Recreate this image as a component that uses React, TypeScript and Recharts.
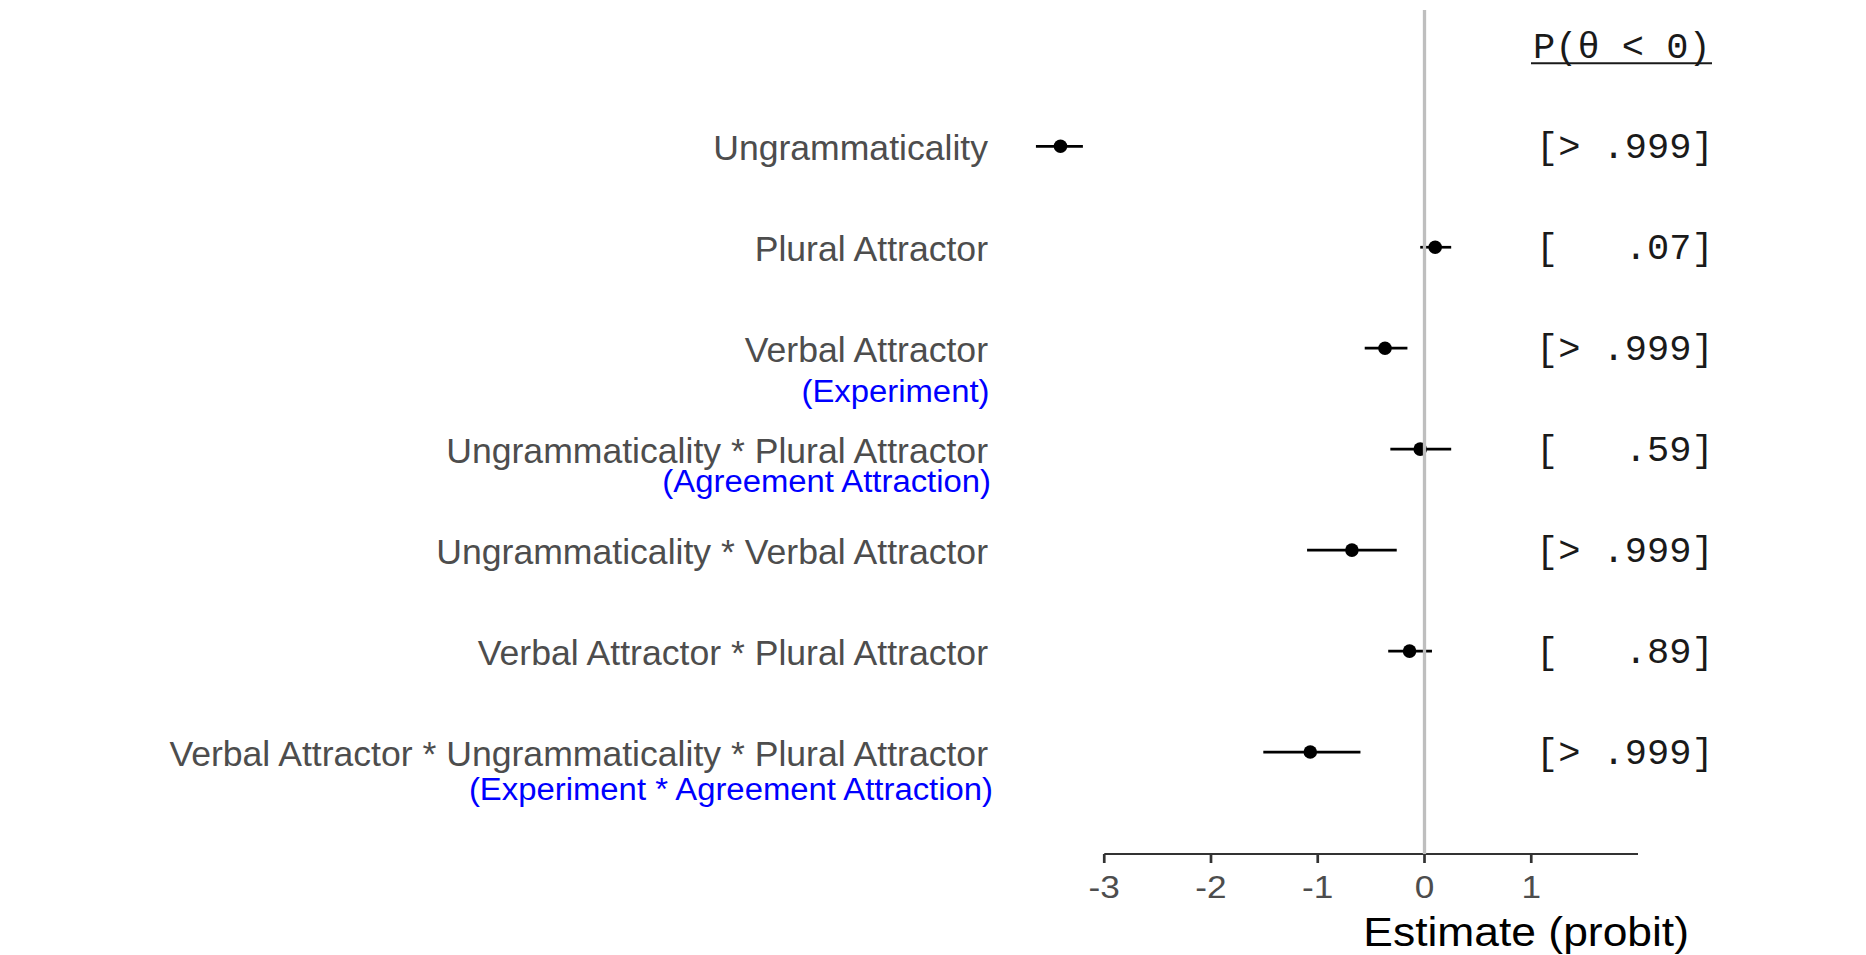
import React from 'react';
import { ScatterChart, Scatter, XAxis, YAxis, ErrorBar, ReferenceLine } from 'recharts';

const terms = [
  'Ungrammaticality',
  'Plural Attractor',
  'Verbal Attractor',
  'Ungrammaticality * Plural Attractor',
  'Ungrammaticality * Verbal Attractor',
  'Verbal Attractor * Plural Attractor',
  'Verbal Attractor * Ungrammaticality * Plural Attractor',
];
const subLabels = ['', '', '(Experiment)', '(Agreement Attraction)', '', '', '(Experiment * Agreement Attraction)'];
const estimates = [-3.41, 0.1, -0.37, -0.04, -0.68, -0.14, -1.07];
const lower = [-3.64, -0.04, -0.56, -0.32, -1.1, -0.34, -1.51];
const upper = [-3.2, 0.25, -0.16, 0.25, -0.26, 0.07, -0.6];
const pValues = ['[> .999]', '[   .07]', '[> .999]', '[   .59]', '[> .999]', '[   .89]', '[> .999]'];
const pHeader = 'P(\u03B8 < 0)';
const xTicks = [-3, -2, -1, 0, 1];
const xTitle = 'Estimate (probit)';

const SANS = '"Liberation Sans", Arial, sans-serif';
const MONO = '"Liberation Mono", "Courier New", monospace';

// label layout tweaks (offsets of the blue sub-labels relative to the row centre)
const subOffsets: Array<{ dx: number; dy: number } | null> = [
  null,
  null,
  { dx: 1.5, dy: 54 },
  { dx: 3, dy: 43 },
  null,
  null,
  { dx: 5, dy: 47.5 },
];

const rows = terms.map((term, i) => ({
  row: i + 1,
  term,
  est: estimates[i],
  err: [estimates[i] - lower[i], upper[i] - estimates[i]],
}));
const rowTicks = rows.map((r) => r.row);
const rightTicks = [0, ...rowTicks];
const Y_DOMAIN: [number, number] = [-0.35, 8.01];
const X_DOMAIN: [number, number] = [-4, 2];

function LeftTick(props: any) {
  const { x, y, payload } = props;
  const i = Number(payload.value) - 1;
  const sub = subLabels[i];
  const off = subOffsets[i];
  return (
    <g>
      <text x={x} y={y + 14} textAnchor="end" fontSize={35.6} fill="#4d4d4d" fontFamily={SANS}>
        {terms[i]}
      </text>
      {sub && off ? (
        <g transform={`translate(${x + off.dx},${y + off.dy}) scale(1.06,1)`}>
          <text x={0} y={0} textAnchor="end" fontSize={31} fill="#0000ff" fontFamily={SANS}>
            {sub}
          </text>
        </g>
      ) : null}
    </g>
  );
}

function RightTick(props: any) {
  const { x, y, payload } = props;
  const v = Number(payload.value);
  const left = x - 102;
  if (v === 0) {
    return (
      <g>
        <text x={left - 3} y={y + 13} fontSize={37} fontFamily={MONO} fill="#1a1a1a" style={{ whiteSpace: 'pre' }}>
          {pHeader}
        </text>
        <line x1={left - 5} x2={left + 176} y1={y + 18} y2={y + 18} stroke="#1a1a1a" strokeWidth={2} />
      </g>
    );
  }
  return (
    <text x={left} y={y + 12} fontSize={37} fontFamily={MONO} fill="#1a1a1a" style={{ whiteSpace: 'pre' }}>
      {pValues[v - 1]}
    </text>
  );
}

function XTick(props: any) {
  const { x, y, payload } = props;
  return (
    <g transform={`translate(${x},${y + 35}) scale(1.1,1)`}>
      <text x={0} y={0} textAnchor="middle" fontSize={32} fill="#4d4d4d" fontFamily={SANS}>
        {payload.value}
      </text>
    </g>
  );
}

function TitleLabel(props: any) {
  const vb = props.viewBox || { x: 0, y: 0, width: 0, height: 0 };
  return (
    <g transform={`translate(${vb.x + vb.width + 51},${vb.y + 92}) scale(1.07,1)`}>
      <text x={0} y={0} textAnchor="end" fontSize={41.5} fill="#000" fontFamily={SANS}>
        {xTitle}
      </text>
    </g>
  );
}

function Dot(props: any) {
  const { cx, cy } = props;
  if (cx == null || cy == null) return null;
  return <circle cx={cx} cy={cy} r={6.8} fill="#000" />;
}

export default function App() {
  return (
    <div style={{ position: 'absolute', left: 0, top: 0, width: 1866, height: 955, background: '#fff' }}>
      <ScatterChart width={1866} height={955} margin={{ top: 10, right: 0, bottom: 0, left: 0 }}>
        <XAxis
          type="number"
          dataKey="est"
          domain={X_DOMAIN}
          ticks={xTicks}
          interval={0}
          allowDataOverflow
          height={101}
          axisLine={false}
          tickLine={{ stroke: '#333', strokeWidth: 2.7 }}
          tickSize={9}
          tickMargin={0}
          tick={(p: any) => <XTick {...p} />}
          label={<TitleLabel />}
        />
        <YAxis
          yAxisId="left"
          type="number"
          dataKey="row"
          domain={Y_DOMAIN}
          ticks={rowTicks}
          interval={0}
          reversed
          allowDataOverflow
          width={997.5}
          axisLine={false}
          tickLine={false}
          tickSize={0}
          tickMargin={9.5}
          tick={(p: any) => <LeftTick {...p} />}
        />
        <YAxis
          yAxisId="right"
          orientation="right"
          type="number"
          dataKey="row"
          domain={Y_DOMAIN}
          ticks={rightTicks}
          interval={0}
          reversed
          allowDataOverflow
          width={228}
          axisLine={false}
          tickLine={false}
          tickSize={0}
          tickMargin={0}
          tick={(p: any) => <RightTick {...p} />}
        />
        <Scatter yAxisId="left" data={rows} fill="#000" shape={(p: any) => <Dot {...p} />} isAnimationActive={false}>
          <ErrorBar dataKey="err" direction="x" width={0} stroke="#000" strokeWidth={2.7} isAnimationActive={false} />
        </Scatter>
        <Scatter yAxisId="right" data={rows} shape={() => <g />} isAnimationActive={false} />
        <ReferenceLine yAxisId="left" x={0} stroke="#bebebe" strokeWidth={3.3} zIndex={1000} />
        <ReferenceLine
          yAxisId="left"
          segment={[
            { x: -3, y: Y_DOMAIN[1] },
            { x: 2, y: Y_DOMAIN[1] },
          ]}
          stroke="#333"
          strokeWidth={1.8}
        />
      </ScatterChart>
    </div>
  );
}
